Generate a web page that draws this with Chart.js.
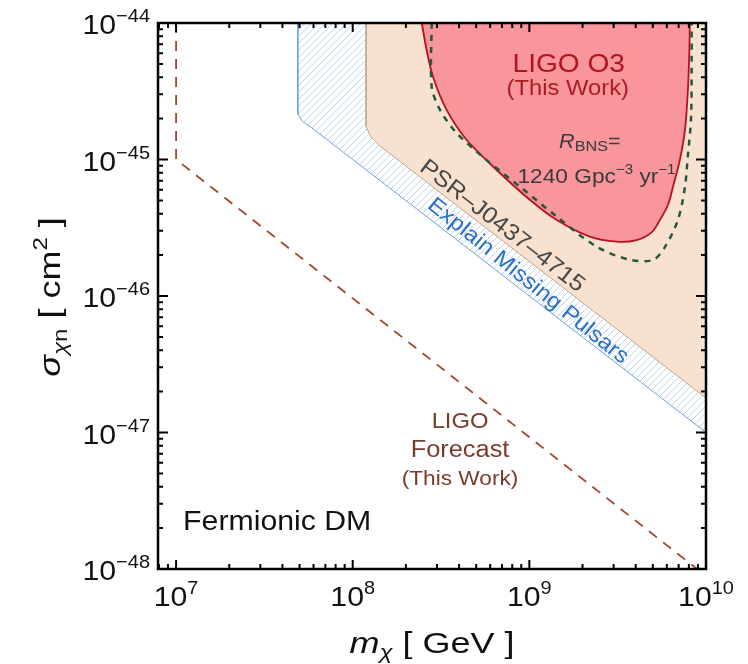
<!DOCTYPE html>
<html>
<head>
<meta charset="utf-8">
<script src="https://cdn.jsdelivr.net/npm/chart.js@4.4.1/dist/chart.umd.min.js"></script>
<style>
  html, body { margin: 0; padding: 0; background: #fff; }
</style>
</head>
<body>
<canvas id="chart" width="748" height="664"></canvas>
<script>
// axis decades
const massExp = [7, 8, 9, 10];
const sigmaExp = [-48, -47, -46, -45, -44];

// LIGO O3 exclusion region (filled red)
const o3Mass = [2.46e8, 2.62e8, 2.85e8, 3.40e8, 4.42e8, 6.53e8, 1.01e9, 1.43e9, 2.20e9, 3.12e9,
                4.05e9, 4.94e9, 5.48e9, 6.09e9, 6.50e9, 7.11e9, 7.60e9, 7.90e9, 8.05e9, 8.10e9];
const o3Sigma = [1e-44, 6.34e-45, 4.02e-45, 2.31e-45, 1.39e-45, 8.38e-46, 5.05e-46, 3.60e-46, 2.72e-46, 2.50e-46,
                 2.57e-46, 2.94e-46, 3.60e-46, 4.64e-46, 6.29e-46, 9.9e-46, 1.64e-45, 3.23e-45, 6.34e-45, 1e-44];

// R_BNS = 1240 Gpc^-3 yr^-1 contour (green dashed)
const bnsMass = [2.80e8, 2.80e8, 3.12e8, 3.88e8, 5.73e8, 8.85e8, 1.43e9, 2.40e9, 3.71e9, 5.03e9,
                 5.85e9, 6.93e9, 7.60e9, 7.90e9, 8.22e9, 8.29e9, 8.29e9];
const bnsSigma = [1e-44, 3.41e-45, 2.31e-45, 1.56e-45, 9.9e-46, 6.32e-46, 3.81e-46, 2.30e-46, 1.84e-46, 1.84e-46,
                  2.28e-46, 3.60e-46, 6.29e-46, 1.08e-45, 1.95e-45, 4.53e-45, 1e-44];

// PSR J0437-4715 bound (tan)
const psrMass = [1.19e8, 1.19e8, 1.26e8, 1.45e8, 1e10, 1e10];
const psrSigma = [1e-44, 1.75e-45, 1.48e-45, 1.235e-45, 1.79e-47, 1e-44];

// explain missing pulsars (blue hatched)
const pulsarMass = [4.89e7, 4.89e7, 5.2e7, 6.0e7, 1e10, 1e10];
const pulsarSigma = [1e-44, 2.15e-45, 1.9e-45, 1.667e-45, 1e-47, 1e-44];

// LIGO forecast (brown dashed)
const forecastMass = [1e7, 1e7, 8.9e9];
const forecastSigma = [1e-44, 1e-45, 1e-48];

const FAMILY = '"Liberation Sans", Arial, Helvetica, sans-serif';
const TEXT_SX = 1.08;

function pts(xs, ys) {
    return xs.map((x, i) => ({ x: x, y: ys[i] }));
}

function fontOf(r) {
    return (r.italic ? 'italic ' : '') + r.size + 'px ' + FAMILY;
}

// draw a row of text runs (for sub/superscripts), slightly widened
function drawRuns(g, runs, x, y, align, color, sx) {
    sx = sx || TEXT_SX;
    const widths = runs.map(r => {
        g.font = fontOf(r);
        return g.measureText(r.t).width * sx;
    });
    const total = widths.reduce((s, w) => s + w, 0);
    let cx = align === 'center' ? x - total / 2 : align === 'right' ? x - total : x;
    g.textAlign = 'left';
    g.textBaseline = 'alphabetic';
    runs.forEach((r, i) => {
        g.save();
        g.fillStyle = r.color || color;
        g.font = fontOf(r);
        g.translate(cx, y + (r.dy || 0));
        g.scale(sx, 1);
        g.fillText(r.t, 0, 0);
        g.restore();
        cx += widths[i];
    });
    return total;
}

function powRuns(e) {
    const s = e < 0 ? '\u2212' + Math.abs(e) : String(e);
    return [{ t: '10', size: 28 }, { t: s, size: 18.5, dy: -12 }];
}

// white + light blue hatch under the pulsar band outline
const hatch = {
    id: 'hatch',
    beforeDatasetDraw(chart, args) {
        if (chart.data.datasets[args.index].label !== 'Explain Missing Pulsars') return;
        const g = chart.ctx;
        const a = chart.chartArea;
        const p = args.meta.data;
        g.save();
        g.beginPath();
        g.rect(a.left, a.top, a.right - a.left, a.bottom - a.top);
        g.clip();
        g.beginPath();
        p.forEach((pt, i) => i ? g.lineTo(pt.x, pt.y) : g.moveTo(pt.x, pt.y));
        g.closePath();
        g.fillStyle = '#ffffff';
        g.fill();
        g.clip();
        g.strokeStyle = '#bcd2ee';
        g.lineWidth = 1;
        g.beginPath();
        const h = a.bottom - a.top;
        for (let c = a.left - h; c < a.right; c += 7) {
            g.moveTo(c, a.bottom);
            g.lineTo(c + h, a.top);
        }
        g.stroke();
        g.restore();
    }
};

const decorations = {
    id: 'decorations',
    afterDraw(chart) {
        const g = chart.ctx;
        const a = chart.chartArea;
        const xs = chart.scales.x;
        const ys = chart.scales.y;
        g.save();

        // frame
        g.strokeStyle = '#000';
        g.lineWidth = 2.5;
        g.strokeRect(a.left, a.top, a.right - a.left, a.bottom - a.top);

        // inward ticks on all four sides
        g.lineWidth = 2;
        g.beginPath();
        for (let d = 6; d <= 10; d++) {
            for (let k = 1; k <= 9; k++) {
                const v = k * Math.pow(10, d);
                if (v < xs.min || v > xs.max) continue;
                const px = xs.getPixelForValue(v);
                const len = k === 1 ? 9 : 5;
                g.moveTo(px, a.bottom); g.lineTo(px, a.bottom - len);
                g.moveTo(px, a.top); g.lineTo(px, a.top + len);
            }
        }
        for (let d = -48; d <= -44; d++) {
            for (let k = 1; k <= 9; k++) {
                const v = k * Math.pow(10, d);
                if (v < ys.min * 0.999 || v > ys.max * 1.001) continue;
                const py = ys.getPixelForValue(v);
                const len = k === 1 ? 10 : 5;
                g.moveTo(a.left, py); g.lineTo(a.left + len, py);
                g.moveTo(a.right, py); g.lineTo(a.right - len, py);
            }
        }
        g.stroke();

        // tick labels
        massExp.forEach(e => {
            const px = xs.getPixelForValue(Math.pow(10, e));
            drawRuns(g, powRuns(e), px, a.bottom + 37, 'center', '#111');
        });
        sigmaExp.forEach(e => {
            const py = ys.getPixelForValue(Math.pow(10, e));
            drawRuns(g, powRuns(e), a.left - 8, py + 11, 'right', '#111');
        });

        // axis titles
        drawRuns(g, [
            { t: 'm', size: 30, italic: true },
            { t: '\u03c7', size: 20, italic: true, dy: 6 },
            { t: ' [ GeV ]', size: 30 }
        ], (a.left + a.right) / 2, a.bottom + 84, 'center', '#111', 1.2);

        g.save();
        g.translate(60, (a.top + a.bottom) / 2 + 1);
        g.rotate(-Math.PI / 2);
        drawRuns(g, [
            { t: '\u03c3', size: 30, italic: true },
            { t: '\u03c7', size: 20, italic: true, dy: 7 },
            { t: 'n', size: 20, dy: 7 },
            { t: ' [ cm', size: 30 },
            { t: '2', size: 20, dy: -13 },
            { t: ' ]', size: 30 }
        ], 0, 0, 'center', '#111', 1.2);
        g.restore();

        // annotations, anchored in data space
        const X = v => xs.getPixelForValue(v);
        const Y = v => ys.getPixelForValue(v);

        drawRuns(g, [{ t: 'LIGO O3', size: 26 }], X(1.67e9), Y(4.37e-45), 'center', '#b0141f');
        drawRuns(g, [{ t: '(This Work)', size: 22 }], X(1.65e9), Y(2.97e-45), 'center', '#ab1d25');

        drawRuns(g, [
            { t: 'R', size: 20, italic: true },
            { t: 'BNS', size: 15, dy: 3 },
            { t: '=', size: 20 }
        ], X(2.2e9), Y(1.21e-45), 'center', '#3a3a3a');
        drawRuns(g, [
            { t: '1240 Gpc', size: 21 },
            { t: '\u22123', size: 14, dy: -9 },
            { t: ' yr', size: 21 },
            { t: '\u22121', size: 14, dy: -9 }
        ], X(2.40e9), Y(6.73e-46), 'center', '#3a3a3a');

        const ang = Math.atan2(Y(1e-46) - Y(1e-45), X(1e9) - X(1e8));
        g.save();
        g.translate(X(7.1e8), Y(3.31e-46));
        g.rotate(ang);
        drawRuns(g, [{ t: 'PSR\u2013J0437\u20134715', size: 23 }], 0, 8, 'center', '#474747');
        g.restore();

        g.save();
        g.translate(X(9.9e8), Y(1.30e-46));
        g.rotate(ang + 0.02);
        drawRuns(g, [{ t: 'Explain Missing Pulsars', size: 22 }], 0, 7, 'center', '#2a6fc9');
        g.restore();

        drawRuns(g, [{ t: 'LIGO', size: 22 }], X(4.05e8), Y(1.08e-47), 'center', '#7b3b2c');
        drawRuns(g, [{ t: 'Forecast', size: 23.5 }], X(4.05e8), Y(6.6e-48), 'center', '#7b3b2c');
        drawRuns(g, [{ t: '(This Work)', size: 21 }], X(4.05e8), Y(4.12e-48), 'center', '#7b3b2c');

        drawRuns(g, [{ t: 'Fermionic DM', size: 28 }], X(1.096e7), Y(1.93e-48), 'left', '#111');

        g.restore();
    }
};

const ctx = document.getElementById('chart').getContext('2d');

const chart = new Chart(ctx, {
    type: 'scatter',
    data: {
        datasets: [
            {
                label: 'LIGO Forecast',
                data: pts(forecastMass, forecastSigma),
                showLine: true,
                fill: false,
                borderColor: '#a3452c',
                borderWidth: 1.8,
                borderDash: [10, 8],
                pointRadius: 0,
                tension: 0,
                order: 1
            },
            {
                label: 'R_BNS contour',
                data: pts(bnsMass, bnsSigma),
                showLine: true,
                fill: false,
                borderColor: '#21583f',
                borderWidth: 2.5,
                borderDash: [6, 6],
                pointRadius: 0,
                tension: 0.3,
                order: 2
            },
            {
                label: 'LIGO O3',
                data: pts(o3Mass, o3Sigma),
                showLine: true,
                fill: 'shape',
                backgroundColor: '#f8969b',
                borderColor: '#b3121e',
                borderWidth: 1.8,
                pointRadius: 0,
                tension: 0.3,
                order: 3
            },
            {
                label: 'PSR J0437-4715',
                data: pts(psrMass, psrSigma),
                showLine: true,
                fill: 'shape',
                backgroundColor: '#f8e2cf',
                borderColor: '#bfa690',
                borderWidth: 1,
                pointRadius: 0,
                tension: 0,
                order: 4
            },
            {
                label: 'Explain Missing Pulsars',
                data: pts(pulsarMass, pulsarSigma),
                showLine: true,
                fill: false,
                borderColor: '#6fa3dc',
                borderWidth: 1,
                pointRadius: 0,
                tension: 0,
                order: 5
            }
        ]
    },
    options: {
        responsive: false,
        animation: false,
        events: [],
        layout: { padding: { left: 0, right: 42, top: 23, bottom: 0 } },
        plugins: {
            legend: { display: false },
            tooltip: { enabled: false }
        },
        scales: {
            x: {
                type: 'logarithmic',
                min: 7.9e6,
                max: 1e10,
                ticks: { display: false },
                grid: { display: false },
                border: { display: false },
                afterFit: s => { s.height = 95; }
            },
            y: {
                type: 'logarithmic',
                min: 1e-48,
                max: 1e-44,
                ticks: { display: false },
                grid: { display: false },
                border: { display: false },
                afterFit: s => { s.width = 158; }
            }
        }
    },
    plugins: [hatch, decorations]
});
</script>
</body>
</html>
